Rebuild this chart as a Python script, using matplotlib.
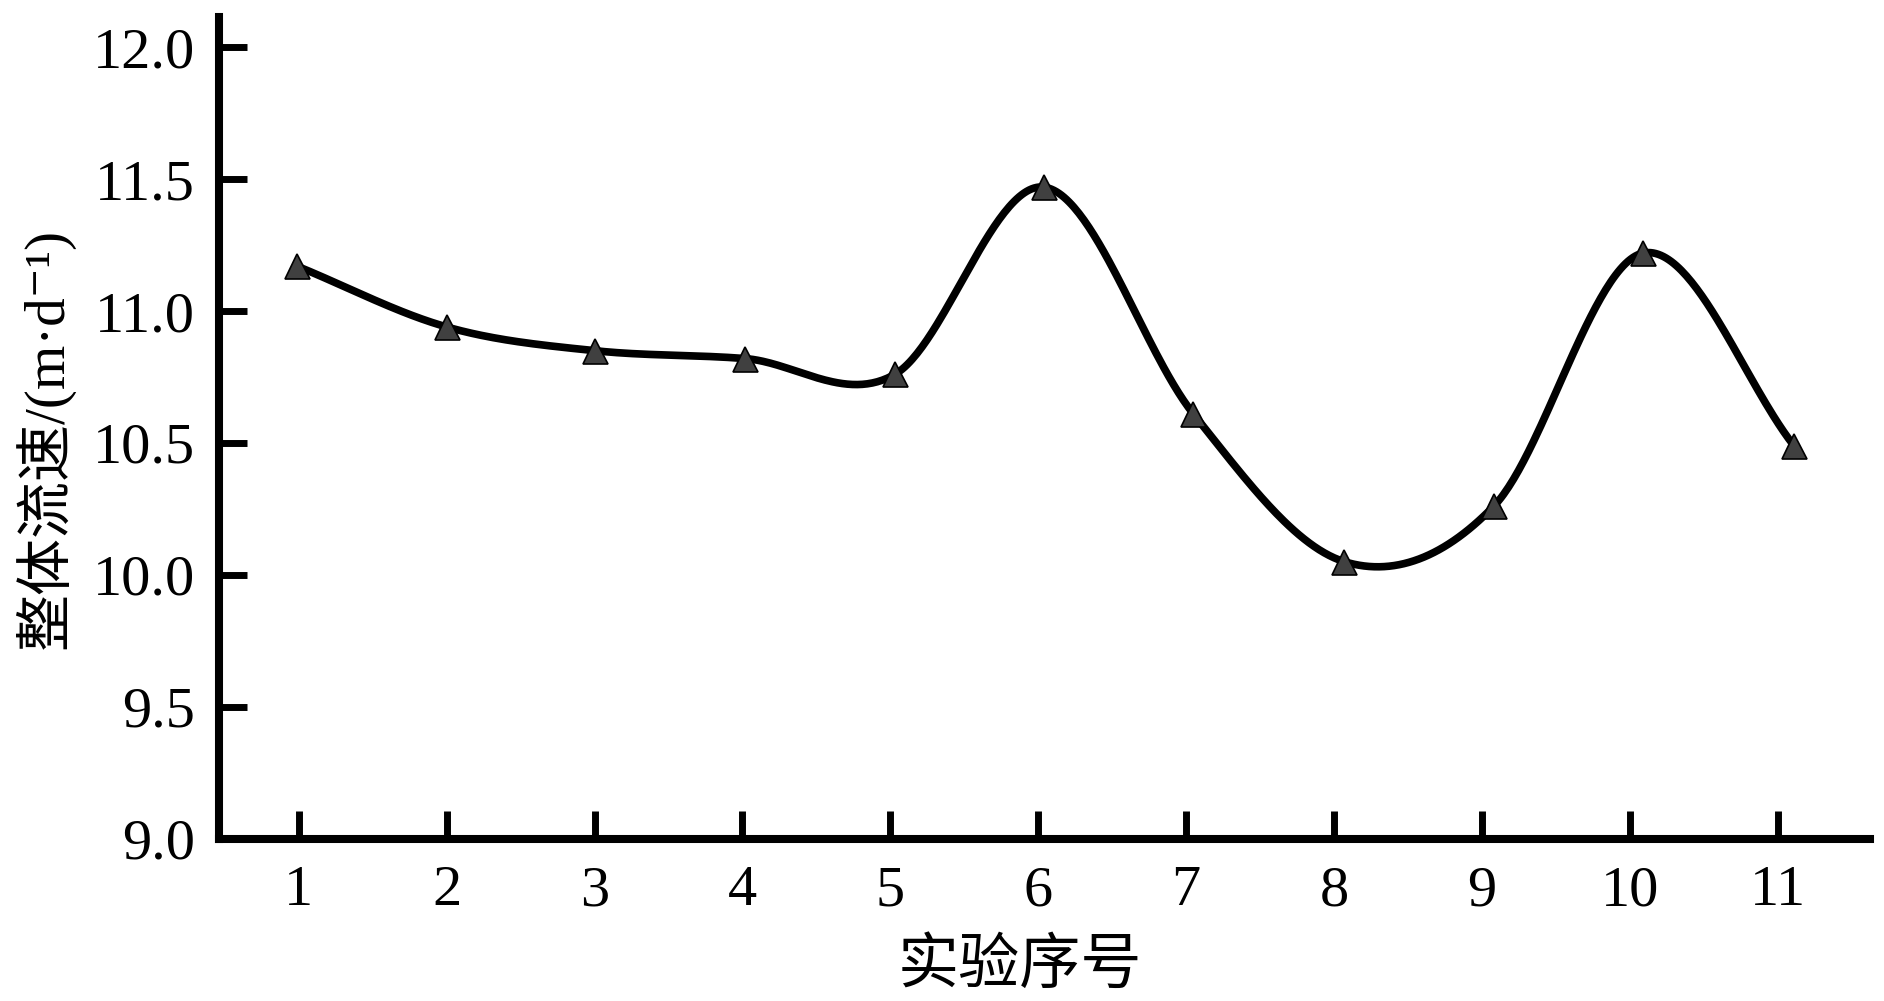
import numpy as np
import matplotlib
matplotlib.use("Agg")
import matplotlib.pyplot as plt

# data
runs = [1, 2, 3, 4, 5, 6, 7, 8, 9, 10, 11]
x_pos = [0.99, 2.00, 3.00, 4.02, 5.03, 6.04, 7.05, 8.07, 9.08, 10.09, 11.11]
speed = [11.17, 10.94, 10.85, 10.82, 10.76, 11.47, 10.61, 10.05, 10.26, 11.22, 10.49]
y_ticks = [9.0, 9.5, 10.0, 10.5, 11.0, 11.5, 12.0]

x_label = "实验序号"
y_label = "整体流速/(m·d⁻¹)"

serif = ["Liberation Serif", "Noto Sans CJK SC", "DejaVu Serif"]
plt.rcParams["font.family"] = serif


def smooth_curve(x, y, per_seg=60):
    # cardinal (Catmull-Rom style) spline through the points
    x = np.asarray(x, float)
    y = np.asarray(y, float)
    m = np.empty_like(y)
    m[1:-1] = (y[2:] - y[:-2]) / (x[2:] - x[:-2])
    m[0] = (y[1] - y[0]) / (x[1] - x[0])
    m[-1] = (y[-1] - y[-2]) / (x[-1] - x[-2])
    xs, ys = [], []
    for i in range(len(x) - 1):
        h = x[i + 1] - x[i]
        t = np.linspace(0, 1, per_seg, endpoint=(i == len(x) - 2))
        h00 = 2 * t ** 3 - 3 * t ** 2 + 1
        h10 = t ** 3 - 2 * t ** 2 + t
        h01 = -2 * t ** 3 + 3 * t ** 2
        h11 = t ** 3 - t ** 2
        xs.append(x[i] + t * h)
        ys.append(h00 * y[i] + h10 * h * m[i] + h01 * y[i + 1] + h11 * h * m[i + 1])
    return np.concatenate(xs), np.concatenate(ys)


fig = plt.figure(figsize=(18.84, 10.01), dpi=100)
ax = fig.add_axes([0.1161, 0.1622, 0.8765, 0.8208])

xs, ys = smooth_curve(x_pos, speed)
ax.plot(xs, ys, color="black", lw=5.5, solid_capstyle="round", zorder=2)
ax.plot(x_pos, speed, ls="none", marker="^", ms=18, mfc="#404040",
        mec="black", mew=1.2, zorder=3)

ax.set_xlim(0.459, 11.625)
ax.set_ylim(9.0, 12.115)
ax.set_xticks(runs)
ax.set_xticklabels([str(r) for r in runs])
ax.set_yticks(y_ticks)
ax.set_yticklabels(["%.1f" % v for v in y_ticks])

for side in ["top", "right"]:
    ax.spines[side].set_visible(False)
for side in ["left", "bottom"]:
    ax.spines[side].set_linewidth(5.8)
    ax.spines[side].set_capstyle("projecting")

ax.tick_params(axis="both", direction="in", length=20, width=5, labelsize=42)
ax.tick_params(axis="y", pad=17)
ax.tick_params(axis="x", pad=19)

ax.set_xlabel(x_label, fontsize=44, family=serif, weight="medium")
ax.xaxis.set_label_coords(0.485, -0.122)
ax.set_ylabel(y_label, fontsize=41, family=serif)
ax.yaxis.set_label_coords(-0.087, 0.487)

fig.savefig("out.png", dpi=100)
